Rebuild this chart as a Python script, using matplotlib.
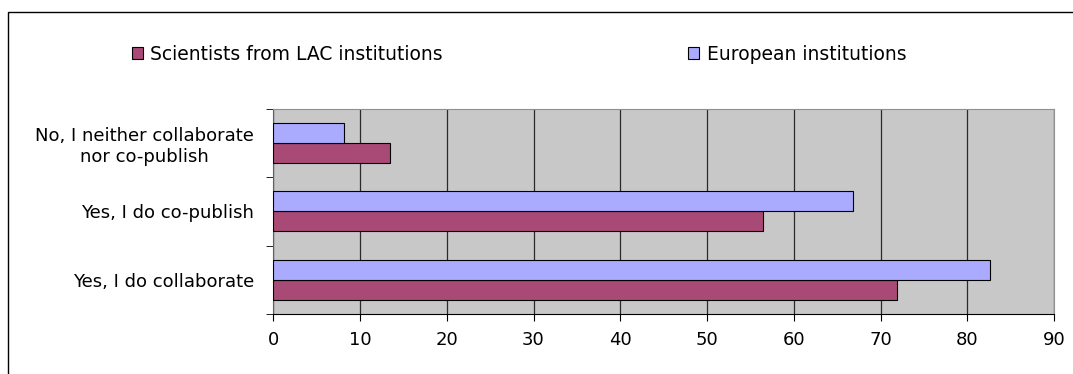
import matplotlib.pyplot as plt
import numpy as np
from matplotlib.patches import Rectangle

plt.rcParams['font.family'] = ['DejaVu Sans']

# data
categorias = ["Yes, I do collaborate", "Yes, I do co-publish",
              "No, I neither collaborate\nnor co-publish"]
lac = [71.9, 56.4, 13.4]
europa = [82.6, 66.8, 8.2]
nomes = ["Scientists from LAC institutions", "European institutions"]
cor_lac = "#A94A76"
cor_eu = "#AAAAFF"

fs = 13

fig = plt.figure(figsize=(10.73, 3.74), dpi=100)
ax = fig.add_axes([0.2547, 0.1604, 0.7276, 0.549])

y = np.arange(len(categorias))
h = 0.29
b1 = ax.barh(y - h / 2, lac, height=h, color=cor_lac, edgecolor="black", linewidth=0.8, zorder=3)
b2 = ax.barh(y + h / 2, europa, height=h, color=cor_eu, edgecolor="black", linewidth=0.8, zorder=3)

ax.set_xlim(0, 90)
ax.set_ylim(-0.5, 2.5)
ax.set_facecolor("#C8C8C8")
ax.set_xticks(range(0, 91, 10))
ax.grid(axis="x", color="#2a2a2a", linewidth=0.9, zorder=1)
ax.set_yticks(y)
ax.set_yticklabels(categorias, fontsize=fs, multialignment="center")
ax.set_yticks(np.arange(-0.5, 2.6, 1), minor=True)
ax.tick_params(axis="y", which="major", length=0, pad=14)
ax.tick_params(axis="y", which="minor", length=5, direction="out", color="black")
ax.tick_params(axis="x", length=5, direction="out", labelsize=fs, pad=7)
ax.spines["top"].set_color("#909090")
ax.spines["right"].set_color("#909090")
ax.spines["left"].set_color("#606060")
ax.spines["bottom"].set_color("black")

# legenda em duas partes
fig.legend(handles=[b1], labels=[nomes[0]], loc="center left", bbox_to_anchor=(0.1227, 0.855),
           frameon=False, fontsize=13.5, borderpad=0, borderaxespad=0,
           handlelength=0.6, handleheight=0.6, handletextpad=0.4)
fig.legend(handles=[b2], labels=[nomes[1]], loc="center left", bbox_to_anchor=(0.641, 0.855),
           frameon=False, fontsize=13.5, borderpad=0, borderaxespad=0,
           handlelength=0.6, handleheight=0.6, handletextpad=0.4)

# borda do grafico
fig.patches.append(Rectangle((8 / 1073, -0.1), 1.2, 1.1 - 12 / 374, transform=fig.transFigure,
                             fill=False, edgecolor="black", linewidth=1))

fig.savefig("out.png", dpi=100)
